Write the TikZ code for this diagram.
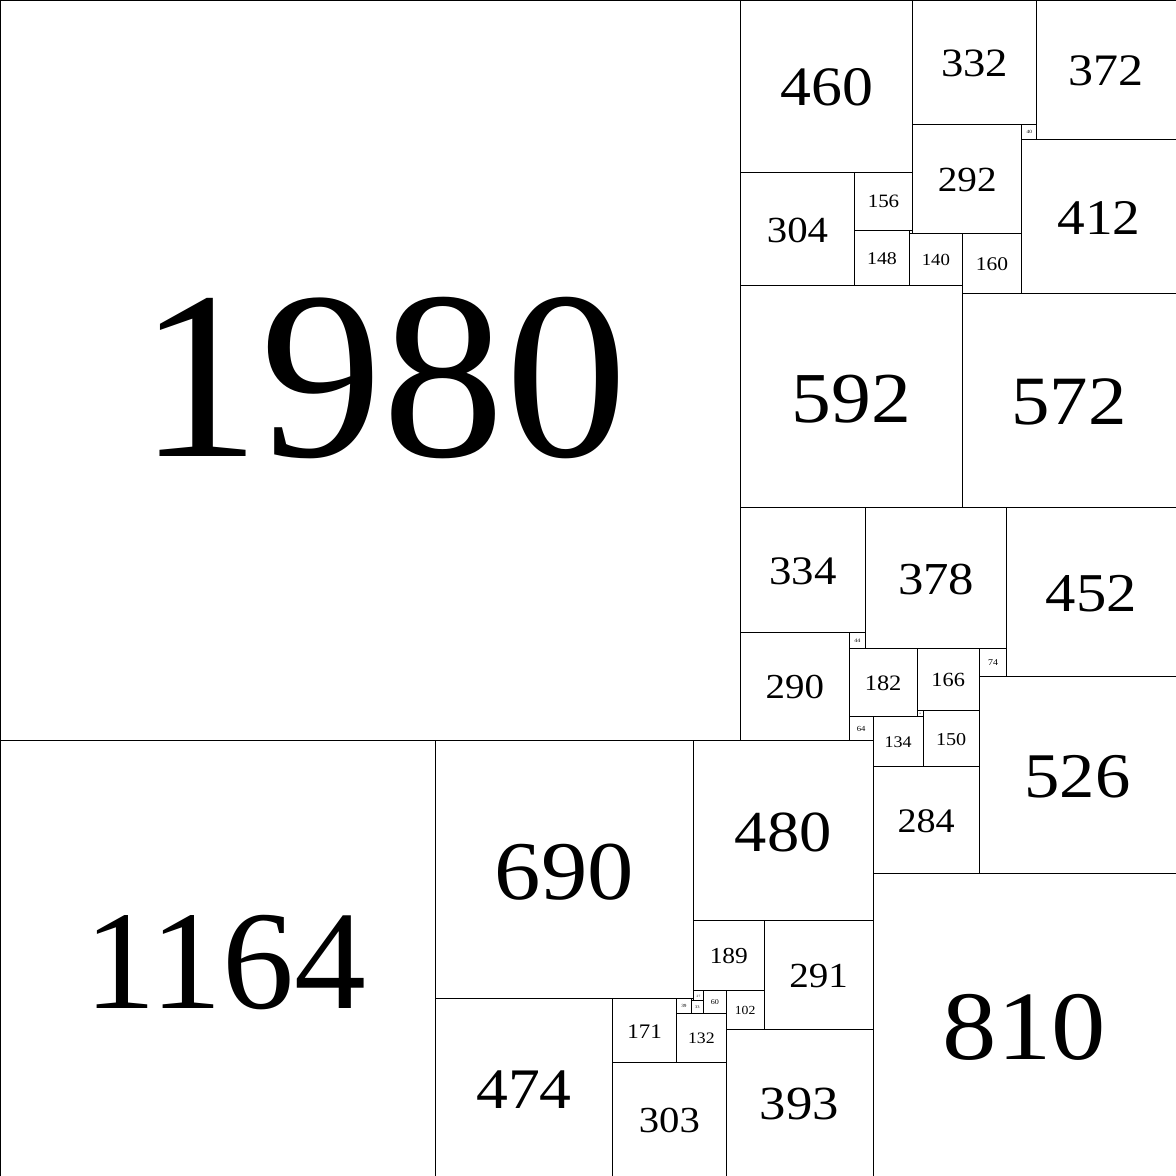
\documentclass[tikz,border=0pt]{standalone}
\usepackage{fontspec}
\setmainfont{Liberation Serif}

\begin{document}
\begin{tikzpicture}[x=0.01cm, y=-0.01cm, line width=0.75pt,
    sqlabel/.style={inner sep=0pt}]
    % Background
    \useasboundingbox (0,0) rectangle (3144,3144);
    \fill[white] (0,0) rectangle (3144,3144);

    % Squares: top-left x / top-left y / side (y grows downwards)
    \foreach \px/\py/\s in {
        0/0/1980, 1980/0/460, 2440/0/332, 2772/0/372,
        1980/460/304, 2284/460/156, 2284/616/148, 2432/616/8,
        2440/332/292, 2732/332/40, 2732/372/412,
        2432/624/140, 2572/624/160,
        1980/764/592, 2572/784/572,
        1980/1356/334, 2314/1356/378, 2692/1356/452,
        1980/1690/290, 2270/1690/44, 2270/1734/182, 2452/1734/166,
        2618/1734/74, 2618/1808/526,
        2270/1916/64, 2452/1900/16, 2334/1916/134, 2468/1900/150,
        2334/2050/284, 2334/2334/810,
        0/1980/1164, 1164/1980/690, 1854/1980/480,
        1854/2460/189, 2043/2460/291,
        1164/2670/474, 1638/2670/171, 1638/2841/303,
        1854/2649/27, 1881/2649/60, 1941/2649/102,
        1848/2670/6, 1809/2670/39, 1848/2676/33,
        1809/2709/132, 1941/2751/393}{
        \draw (\px,\py) rectangle +(\s,\s);
        \pgfmathsetmacro{\fs}{\s*0.092}
        % wider digits for three-figure labels, nudge for four-figure ones
        \pgfmathsetmacro{\xs}{\s>999 ? 1.02 : 1.11}
        \pgfmathsetmacro{\dx}{\s>999 ? 0.017*\s : 0}
        \node[sqlabel, xscale=\xs, font=\fontsize{\fs pt}{\fs pt}\selectfont]
            (sq\s) at (\px+\s/2+\dx,\py+\s/2+\s/100) {\s};
    }
\end{tikzpicture}
\end{document}
